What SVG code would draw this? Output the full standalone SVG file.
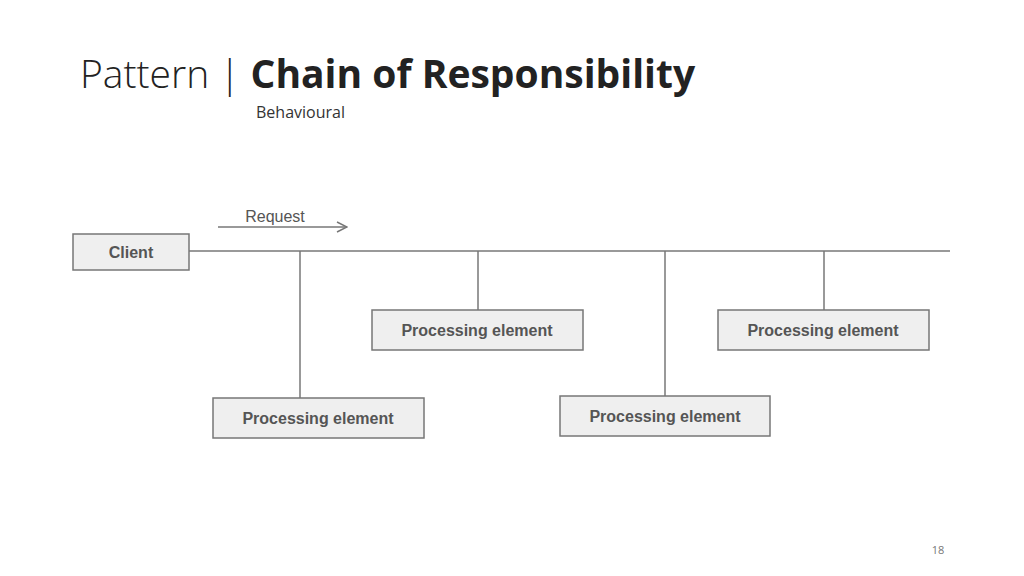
<svg xmlns="http://www.w3.org/2000/svg" width="1024" height="576" viewBox="0 0 1024 576">
<style>
.box{fill:#efefef;stroke:#777;stroke-width:1.5}
.lbl{font-family:"Liberation Sans",Arial,sans-serif;font-weight:bold;font-size:16px;fill:#555;text-anchor:middle}
.ln{stroke:#777;stroke-width:1.5;fill:none}
</style>
<defs><marker id="ah" markerWidth="12" markerHeight="12" refX="11" refY="6" orient="auto" markerUnits="userSpaceOnUse"><path d="M1,1 L11,6 L1,11" fill="none" stroke="#777" stroke-width="1.5"/></marker></defs>
<rect width="1024" height="576" fill="#fff"/>
<text x="80" y="88" font-family="'Open Sans',sans-serif" font-size="39" fill="#222"><tspan font-weight="300">Pattern | </tspan><tspan font-weight="bold">Chain of Responsibility</tspan></text>
<text x="256" y="118" font-family="'Open Sans',sans-serif" font-size="16" fill="#333">Behavioural</text>
<text x="938" y="554" font-family="'Open Sans',sans-serif" font-size="11" fill="#777" text-anchor="middle">18</text>
<g id="connectors">
<line class="ln" x1="189" y1="251" x2="950" y2="251"/>
<line class="ln" x1="300" y1="251" x2="300" y2="398"/>
<line class="ln" x1="478" y1="251" x2="478" y2="310"/>
<line class="ln" x1="665" y1="251" x2="665" y2="396"/>
<line class="ln" x1="824" y1="251" x2="824" y2="310"/>
<line class="ln" x1="218" y1="227" x2="347" y2="227" marker-end="url(#ah)"/>
<text x="275" y="222" font-family="'Liberation Sans',Arial,sans-serif" font-size="16" fill="#555" text-anchor="middle">Request</text>
</g>
<g id="client"><rect class="box" x="73" y="234" width="116" height="36"/><text class="lbl" x="131" y="258">Client</text></g>
<g id="pe1"><rect class="box" x="213" y="398" width="211" height="40"/><text class="lbl" x="318" y="424">Processing element</text></g>
<g id="pe2"><rect class="box" x="372" y="310" width="211" height="40"/><text class="lbl" x="477" y="336">Processing element</text></g>
<g id="pe3"><rect class="box" x="560" y="396" width="210" height="40"/><text class="lbl" x="665" y="422">Processing element</text></g>
<g id="pe4"><rect class="box" x="718" y="310" width="211" height="40"/><text class="lbl" x="823" y="336">Processing element</text></g>
</svg>
